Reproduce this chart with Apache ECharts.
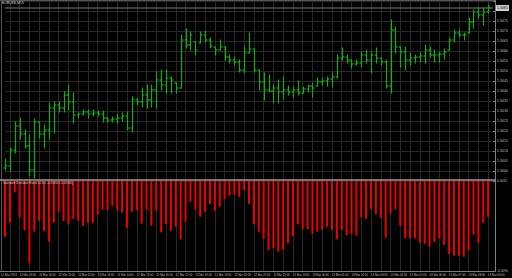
<!DOCTYPE html>
<html><head><meta charset="utf-8">
<script src="https://cdn.jsdelivr.net/npm/echarts@6/dist/echarts.min.js"></script>
<style>html,body{margin:0;padding:0;background:#000;}#c{width:512px;height:278px;}</style>
</head><body><div id="c"></div>
<script>
const symbolTitle = 'EURUSD,M15';
const indicatorTitle = 'Standard Deviation Ratio(14,20) -0.00360 (-0.00360)';
const firstDateLabel = '12 Mar 2013';
const timeLabels = ['12 Mar 09:00','12 Mar 10:00','12 Mar 11:00','12 Mar 12:00','12 Mar 13:00','12 Mar 14:00','12 Mar 15:00','12 Mar 16:00','12 Mar 17:00','12 Mar 18:00','12 Mar 19:00','12 Mar 20:00','12 Mar 21:00','12 Mar 22:00','12 Mar 23:00','13 Mar 00:00','13 Mar 01:00','13 Mar 02:00','13 Mar 03:00','13 Mar 04:00','13 Mar 05:00','13 Mar 06:00','13 Mar 07:00','13 Mar 08:00','13 Mar 09:00'];

const openP = [1.30015,1.30025,1.30105,1.30225,1.30185,1.30125,1.30005,1.30245,1.30185,1.30205,
1.30315,1.30330,1.30315,1.30380,1.30345,1.30280,1.30285,1.30295,1.30285,1.30290,
1.30285,1.30265,1.30255,1.30260,1.30265,1.30275,1.30215,1.30355,1.30345,1.30380,
1.30355,1.30405,1.30455,1.30430,1.30465,1.30440,1.30415,1.30655,1.30630,1.30645,
1.30640,1.30680,1.30655,1.30620,1.30605,1.30620,1.30570,1.30555,1.30545,1.30505,
1.30590,1.30610,1.30505,1.30445,1.30405,1.30400,1.30415,1.30395,1.30405,1.30395,
1.30405,1.30390,1.30410,1.30425,1.30425,1.30445,1.30450,1.30460,1.30470,1.30565,
1.30570,1.30555,1.30535,1.30540,1.30580,1.30555,1.30580,1.30565,1.30545,1.30425,
1.30705,1.30620,1.30595,1.30555,1.30565,1.30570,1.30575,1.30605,1.30580,1.30580,
1.30585,1.30605,1.30655,1.30690,1.30680,1.30690,1.30745,1.30795,1.30780,1.30795];
const highP = [1.30060,1.30115,1.30245,1.30265,1.30205,1.30180,1.30260,1.30245,1.30230,1.30340,
1.30345,1.30345,1.30395,1.30430,1.30390,1.30290,1.30305,1.30305,1.30305,1.30300,
1.30300,1.30265,1.30270,1.30285,1.30290,1.30295,1.30370,1.30365,1.30415,1.30430,
1.30430,1.30495,1.30505,1.30505,1.30470,1.30440,1.30680,1.30710,1.30695,1.30645,
1.30695,1.30700,1.30665,1.30620,1.30655,1.30620,1.30580,1.30570,1.30555,1.30620,
1.30690,1.30610,1.30505,1.30490,1.30480,1.30430,1.30455,1.30470,1.30425,1.30420,
1.30450,1.30420,1.30430,1.30440,1.30465,1.30465,1.30470,1.30490,1.30580,1.30615,
1.30580,1.30555,1.30555,1.30595,1.30605,1.30595,1.30615,1.30565,1.30555,1.30755,
1.30720,1.30620,1.30620,1.30590,1.30580,1.30590,1.30630,1.30620,1.30605,1.30595,
1.30610,1.30665,1.30705,1.30705,1.30690,1.30765,1.30805,1.30815,1.30815,1.30830];
const lowP = [1.30005,1.30000,1.30090,1.30160,1.30115,1.29975,1.29965,1.30165,1.30115,1.30160,
1.30190,1.30295,1.30295,1.30305,1.30240,1.30265,1.30280,1.30265,1.30275,1.30275,
1.30245,1.30245,1.30245,1.30240,1.30250,1.30205,1.30195,1.30330,1.30320,1.30315,
1.30320,1.30315,1.30405,1.30390,1.30390,1.30390,1.30415,1.30615,1.30605,1.30580,
1.30640,1.30645,1.30615,1.30580,1.30605,1.30555,1.30540,1.30530,1.30495,1.30490,
1.30590,1.30495,1.30405,1.30355,1.30395,1.30340,1.30340,1.30360,1.30380,1.30370,
1.30380,1.30390,1.30395,1.30370,1.30425,1.30430,1.30425,1.30420,1.30465,1.30555,
1.30540,1.30515,1.30530,1.30520,1.30540,1.30490,1.30540,1.30530,1.30415,1.30390,
1.30590,1.30520,1.30505,1.30530,1.30540,1.30545,1.30540,1.30570,1.30545,1.30545,
1.30560,1.30605,1.30645,1.30670,1.30655,1.30690,1.30715,1.30765,1.30730,1.30790];
const closeP = [1.30025,1.30105,1.30225,1.30185,1.30125,1.30005,1.30245,1.30185,1.30205,1.30315,
1.30330,1.30315,1.30380,1.30345,1.30280,1.30285,1.30295,1.30285,1.30290,1.30285,
1.30265,1.30255,1.30260,1.30265,1.30275,1.30215,1.30355,1.30345,1.30380,1.30355,
1.30405,1.30455,1.30430,1.30465,1.30455,1.30415,1.30655,1.30630,1.30680,1.30605,
1.30680,1.30655,1.30625,1.30605,1.30620,1.30570,1.30555,1.30545,1.30505,1.30590,
1.30610,1.30505,1.30445,1.30405,1.30400,1.30415,1.30395,1.30405,1.30395,1.30405,
1.30390,1.30410,1.30425,1.30415,1.30445,1.30450,1.30460,1.30470,1.30565,1.30570,
1.30555,1.30535,1.30540,1.30580,1.30555,1.30580,1.30565,1.30545,1.30425,1.30705,
1.30620,1.30595,1.30555,1.30565,1.30570,1.30575,1.30605,1.30580,1.30580,1.30585,
1.30595,1.30655,1.30690,1.30680,1.30680,1.30745,1.30795,1.30780,1.30795,1.30815];
const indicatorValues = [-0.00557,-0.00417,-0.00113,-0.00367,-0.00493,-0.00823,-0.00507,-0.00397,-0.00500,-0.00607,
-0.00417,-0.00307,-0.00400,-0.00433,-0.00380,-0.00397,-0.00447,-0.00417,-0.00417,-0.00340,
-0.00287,-0.00290,-0.00250,-0.00293,-0.00317,-0.00467,-0.00307,-0.00293,-0.00427,-0.00287,
-0.00447,-0.00297,-0.00513,-0.00433,-0.00497,-0.00457,-0.00583,-0.00407,-0.00207,-0.00287,
-0.00357,-0.00307,-0.00230,-0.00297,-0.00257,-0.00180,-0.00150,-0.00140,-0.00160,-0.00090,
-0.00230,-0.00433,-0.00507,-0.00577,-0.00693,-0.00670,-0.00707,-0.00687,-0.00623,-0.00550,
-0.00433,-0.00483,-0.00483,-0.00527,-0.00507,-0.00490,-0.00457,-0.00490,-0.00583,-0.00490,
-0.00543,-0.00530,-0.00547,-0.00360,-0.00380,-0.00280,-0.00333,-0.00367,-0.00567,-0.00327,
-0.00283,-0.00450,-0.00573,-0.00573,-0.00573,-0.00617,-0.00630,-0.00657,-0.00610,-0.00573,
-0.00640,-0.00730,-0.00747,-0.00747,-0.00757,-0.00693,-0.00537,-0.00617,-0.00417,-0.00360];

const priceMin = 1.2995, priceMax = 1.3085, priceStep = 0.0005;
const indMin = -0.009, indMax = 0;

const GREEN = '#1aa81a', RED = '#ee0000', GRIDC = '#282828', FRAME = '#7c7c7c', TXT = '#b8b8b8';
const FONT = 'Liberation Sans';

const slotCount = openP.length + 1;
const cats = [];
for (let i = 0; i < slotCount; i++) {
  cats.push(i % 4 === 3 && ((i - 3) / 4) < timeLabels.length ? timeLabels[(i - 3) / 4] : '');
}
const ohlc = openP.map((o, i) => [i, o, closeP[i], lowP[i], highP[i]]);
const lastClose = closeP[closeP.length - 1];

const chart = echarts.init(document.getElementById('c'), null, {renderer: 'canvas'});
chart.setOption({
  backgroundColor: '#000',
  animation: false,
  grid: [
    {left: 5, width: 488, top: 1, height: 180},
    {left: 5, width: 488, top: 181, height: 90}
  ],
  xAxis: [
    {type: 'category', gridIndex: 0, data: cats, boundaryGap: false,
     axisLine: {show: false}, axisTick: {show: false}, axisLabel: {show: false},
     splitLine: {show: true, interval: (i) => i % 2 === 1, lineStyle: {color: GRIDC, width: 1}}},
    {type: 'category', gridIndex: 1, data: cats, boundaryGap: false,
     axisLine: {show: false}, axisTick: {show: false},
     axisLabel: {show: true, interval: (i) => i % 4 === 3, align: 'left', margin: 3,
       color: TXT, fontSize: 2.8, fontFamily: FONT},
     splitLine: {show: true, interval: (i) => i % 2 === 1, lineStyle: {color: GRIDC, width: 1}}}
  ],
  yAxis: [
    {type: 'value', gridIndex: 0, position: 'right', min: priceMin, max: priceMax, interval: priceStep,
     axisLine: {show: false}, axisTick: {show: true, length: 2, lineStyle: {color: FRAME}},
     axisLabel: {show: true, margin: 4, color: TXT, fontSize: 3.6, fontFamily: FONT,
       formatter: (v) => (v < priceMin + 1e-6 || v > priceMax - 6e-4) ? '' : v.toFixed(4)},
     splitLine: {show: true, lineStyle: {color: GRIDC, width: 1}}},
    {type: 'value', gridIndex: 1, position: 'right', min: indMin, max: indMax, interval: 0.009,
     axisLine: {show: false}, axisTick: {show: false},
     axisLabel: {show: true, margin: 4, color: TXT, fontSize: 3.2, fontFamily: FONT,
       formatter: (v) => v.toFixed(4)},
     splitLine: {show: false}}
  ],
  series: [
    {type: 'line', xAxisIndex: 0, yAxisIndex: 0, silent: true, symbol: 'none', z: 1,
     data: [[0, lastClose], [slotCount - 1, lastClose]],
     lineStyle: {color: '#7a7a7a', width: 1},
     endLabel: {show: true, distance: 3, formatter: () => lastClose.toFixed(4),
       backgroundColor: '#cfcfcf', color: '#000', fontSize: 3.6, fontFamily: FONT, padding: [1, 1, 1, 1]}},
    {type: 'custom', xAxisIndex: 0, yAxisIndex: 0, data: ohlc, z: 3,
     encode: {x: 0, y: [1, 2, 3, 4]},
     renderItem: function (params, api) {
       const x = api.value(0);
       const o = api.coord([x, api.value(1)]);
       const c = api.coord([x, api.value(2)]);
       const l = api.coord([x, api.value(3)]);
       const h = api.coord([x, api.value(4)]);
       const px = Math.round(o[0]) + 0.5;
       const st = {stroke: GREEN, lineWidth: 1.2};
       return {type: 'group', children: [
         {type: 'line', shape: {x1: px, y1: h[1] - 0.5, x2: px, y2: l[1] + 0.5}, style: st},
         {type: 'line', shape: {x1: px - 2, y1: o[1], x2: px, y2: o[1]}, style: st},
         {type: 'line', shape: {x1: px, y1: c[1], x2: px + 2, y2: c[1]}, style: st}
       ]};
     }
    },
    {type: 'bar', xAxisIndex: 1, yAxisIndex: 1, data: indicatorValues, barWidth: 2,
     itemStyle: {color: RED}}
  ],
  graphic: [
    {type: 'line', shape: {x1: 0, y1: 0.5, x2: 496, y2: 0.5}, style: {stroke: '#555', lineWidth: 1}, z: 100},
    {type: 'line', shape: {x1: 1.5, y1: 0, x2: 1.5, y2: 272}, style: {stroke: '#555', lineWidth: 1}, z: 100},
    {type: 'line', shape: {x1: 495.5, y1: 0, x2: 495.5, y2: 272}, style: {stroke: FRAME, lineWidth: 1}, z: 100},
    {type: 'line', shape: {x1: 0, y1: 180, x2: 496, y2: 180}, style: {stroke: '#9a9a9a', lineWidth: 1.6}, z: 100},
    {type: 'line', shape: {x1: 0, y1: 271.5, x2: 496, y2: 271.5}, style: {stroke: FRAME, lineWidth: 1}, z: 100},
    {type: 'text', left: 2, top: 1.5, style: {text: symbolTitle, fill: '#d8d8d8', fontSize: 3.4, fontFamily: FONT}, z: 100},
    {type: 'text', left: 3, top: 182, style: {text: indicatorTitle, fill: '#d0d0d0', fontSize: 3, fontFamily: FONT}, z: 100},
    {type: 'text', left: 1, top: 274, style: {text: firstDateLabel, fill: TXT, fontSize: 2.8, fontFamily: FONT}, z: 100}
  ]
});
</script></body></html>
